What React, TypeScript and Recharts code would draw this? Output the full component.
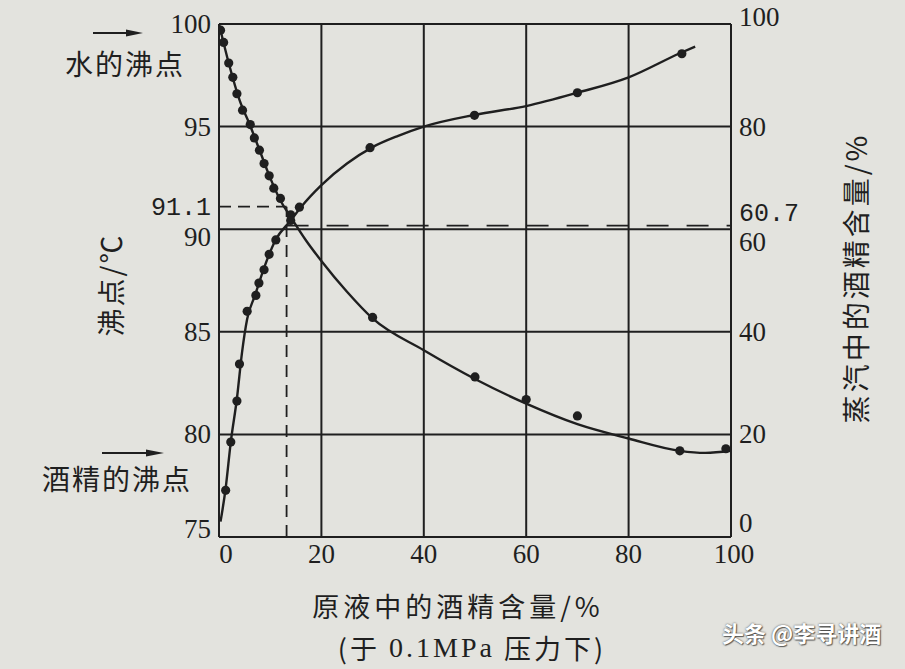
import { ComposedChart, Line, Scatter, XAxis, YAxis, ReferenceLine } from 'recharts';

// 原液中的酒精含量 (x) / 沸点 (左轴) / 蒸汽中的酒精含量 (右轴)
const BP_DOT_X = [0.3, 0.9, 1.9, 2.7, 3.5, 4.6, 6.1, 6.9, 7.9, 8.8, 9.8, 10.7, 12.0, 14.0, 30, 50, 60, 70, 90, 99];
const BP_DOT_T = [99.7, 99.1, 98.1, 97.4, 96.6, 95.8, 95.1, 94.45, 93.85, 93.2, 92.6, 92.0, 91.5, 90.7, 85.7, 82.8, 81.7, 80.9, 79.2, 79.3];

const BP_LINE_X = [0, 2, 4, 6, 8, 10, 12, 14, 17, 20, 25, 30, 40, 50, 60, 70, 80, 90, 95, 100];
const BP_LINE_T = [100, 98.0, 96.3, 95.1, 93.8, 92.5, 91.4, 90.6, 89.45, 88.45, 86.95, 85.65, 84.1, 82.7, 81.5, 80.5, 79.8, 79.2, 79.1, 79.2];

const VP_DOT_X = [1.3, 2.3, 3.5, 4.0, 5.5, 7.2, 7.8, 8.8, 9.8, 11.1, 14.0, 15.7, 29.5, 49.9, 70, 90.4];
const VP_DOT_V = [9.1, 18.5, 26.5, 33.7, 44.0, 47.1, 49.5, 52.1, 55.1, 57.9, 61.7, 64.3, 75.9, 82.2, 86.6, 94.2];

const VP_LINE_X = [0.3, 1.3, 2.3, 3.5, 4.5, 5.5, 7, 9, 11, 14, 16, 20, 25, 30, 35, 40, 50, 60, 70, 80, 90, 93];
const VP_LINE_V = [3, 9.5, 18.5, 27, 36, 42.5, 47, 53, 57.8, 61.7, 64.3, 68.6, 72.8, 76.0, 78.2, 80.0, 82.3, 84.0, 86.6, 89.6, 94.3, 95.6];

const X_TICKS = [0, 20, 40, 60, 80, 100];
const T_TICKS = [75, 80, 85, 90, 91.1, 95, 100];
const V_TICKS = [0, 20, 40, 60, 60.7, 80, 100];
const GRID_X = [20, 40, 60, 80];
const GRID_T = [80, 85, 90, 95];

// 交点处的读数
const MARK_X = 13.2;
const MARK_T = 91.1;
const MARK_V = 60.7;

const INK = '#1f1f1f';
const PAPER = '#e3e3de';
const SERIF = '"Liberation Serif", "DejaVu Serif", serif';
const MONO = '"Liberation Mono", monospace';
const CJK = '"Noto Sans CJK SC", sans-serif';

const bpDots = BP_DOT_X.map((x, i) => ({ x, t: BP_DOT_T[i] }));
const bpLine = BP_LINE_X.map((x, i) => ({ x, t: BP_LINE_T[i] }));
const vpDots = VP_DOT_X.map((x, i) => ({ x, v: VP_DOT_V[i] }));
const vpLine = VP_LINE_X.map((x, i) => ({ x, v: VP_LINE_V[i] }));

const dot = (p: any) => <circle cx={p.cx} cy={p.cy} r={4.6} fill={INK} />;

function LeftTick({ x, y, payload }: any) {
  const v = payload.value;
  const dy = v === 91.1 ? 2 : v === 90 ? 8 : v === 75 ? -8 : 0;
  return (
    <text x={x} y={y + dy} textAnchor="end" dominantBaseline="central" fill={INK}
      fontFamily={v === 91.1 ? MONO : SERIF} fontSize={v === 91.1 ? 25 : 27}>
      {v}
    </text>
  );
}

function RightTick({ x, y, payload }: any) {
  const v = payload.value;
  const dy = v === 60.7 ? -11 : v === 60 ? 13 : v === 100 ? -7 : v === 0 ? -14 : 0;
  return (
    <text x={x} y={y + dy} textAnchor="start" dominantBaseline="central" fill={INK}
      fontFamily={v === 60.7 ? MONO : SERIF} fontSize={v === 60.7 ? 25 : 27}>
      {v}
    </text>
  );
}

function BottomTick({ x, y, payload }: any) {
  const v = payload.value;
  const dx = v === 0 ? 7 : v === 100 ? 3 : 0;
  return (
    <text x={x + dx} y={y + 9} textAnchor="middle" dominantBaseline="central" fill={INK}
      fontFamily={SERIF} fontSize={27}>
      {v}
    </text>
  );
}

export default function App() {
  return (
    <div style={{ position: 'absolute', left: 0, top: 0, width: 905, height: 669, background: PAPER, overflow: 'hidden' }}>
      <ComposedChart width={905} height={669} margin={{ top: 24, right: 114, bottom: 92, left: 179 }}>
        <XAxis xAxisId="x" dataKey="x" type="number" domain={[0, 100]} ticks={X_TICKS} height={40}
          tickLine={false} axisLine={{ stroke: INK, strokeWidth: 2 }} tick={<BottomTick />} allowDataOverflow />
        <YAxis yAxisId="t" orientation="left" type="number" domain={[75, 100]} ticks={T_TICKS} width={40}
          tickLine={false} axisLine={{ stroke: INK, strokeWidth: 2 }} tick={<LeftTick />} interval={0} allowDataOverflow />
        <YAxis yAxisId="v" orientation="right" type="number" domain={[0, 100]} ticks={V_TICKS} width={60}
          tickLine={false} axisLine={{ stroke: INK, strokeWidth: 2 }} tick={<RightTick />} interval={0} allowDataOverflow />

        {GRID_X.map((g) => (
          <ReferenceLine key={'gx' + g} xAxisId="x" yAxisId="t" x={g} stroke={INK} strokeWidth={2} />
        ))}
        {GRID_T.map((g) => (
          <ReferenceLine key={'gt' + g} xAxisId="x" yAxisId="t" y={g} stroke={INK} strokeWidth={2} />
        ))}
        <ReferenceLine xAxisId="x" yAxisId="t" y={100} stroke={INK} strokeWidth={2} />

        <ReferenceLine xAxisId="x" yAxisId="t" segment={[{ x: MARK_X, y: 75 }, { x: MARK_X, y: MARK_T }]}
          stroke={INK} strokeWidth={1.8} strokeDasharray="12 8" />
        <ReferenceLine xAxisId="x" yAxisId="t" segment={[{ x: 0, y: MARK_T }, { x: MARK_X, y: MARK_T }]}
          stroke={INK} strokeWidth={1.8} strokeDasharray="12 7" />
        <ReferenceLine xAxisId="x" yAxisId="v" segment={[{ x: MARK_X, y: MARK_V }, { x: 100, y: MARK_V }]}
          stroke={INK} strokeWidth={1.8} strokeDasharray="22 18" />

        <Line xAxisId="x" yAxisId="t" data={bpLine} dataKey="t" type="monotone" stroke={INK} strokeWidth={2.4}
          dot={false} activeDot={false} isAnimationActive={false} />
        <Line xAxisId="x" yAxisId="v" data={vpLine} dataKey="v" type="monotone" stroke={INK} strokeWidth={2.4}
          dot={false} activeDot={false} isAnimationActive={false} />
        <Scatter xAxisId="x" yAxisId="t" data={bpDots} dataKey="t" shape={dot} isAnimationActive={false} />
        <Scatter xAxisId="x" yAxisId="v" data={vpDots} dataKey="v" shape={dot} isAnimationActive={false} />
      </ComposedChart>

      <svg width={905} height={669} style={{ position: 'absolute', left: 0, top: 0, pointerEvents: 'none' }}>
        <g fill={INK} fontFamily={CJK} fontSize={28}>
          <line x1={93} y1={33} x2={132} y2={33} stroke={INK} strokeWidth={2} />
          <polygon points="126,29.5 143,33 126,36.5" />
          <text x={125} y={63} textAnchor="middle" dominantBaseline="central" letterSpacing={2}>水的沸点</text>

          <line x1={102} y1={453} x2={152} y2={453} stroke={INK} strokeWidth={2} />
          <polygon points="146,449.5 164,453 146,456.5" />
          <text x={117} y={478} textAnchor="middle" dominantBaseline="central" letterSpacing={2}>酒精的沸点</text>

          <text transform="translate(110,285) rotate(-90)" textAnchor="middle" dominantBaseline="central" letterSpacing={2}>沸点/℃</text>
          <text transform="translate(855,278) rotate(-90)" textAnchor="middle" dominantBaseline="central" letterSpacing={3}>蒸汽中的酒精含量/%</text>

          <text x={458} y={605} textAnchor="middle" dominantBaseline="central" fontSize={27} letterSpacing={4}>原液中的酒精含量/%</text>
          <text x={472} y={647} textAnchor="middle" dominantBaseline="central" fontSize={27} letterSpacing={3}>
            (于 <tspan fontFamily={SERIF} fontSize={28}>0.1MPa</tspan> 压力下)
          </text>
        </g>
      </svg>

      <div style={{
        position: 'absolute', left: 722, top: 616, fontFamily: CJK, fontSize: 22, fontWeight: 700,
        color: '#ffffff', textShadow: '0 0 2px rgba(0,0,0,0.7), 1px 1px 1px rgba(0,0,0,0.5)', whiteSpace: 'nowrap',
      }}>
        头条 @李寻讲酒
      </div>
    </div>
  );
}
